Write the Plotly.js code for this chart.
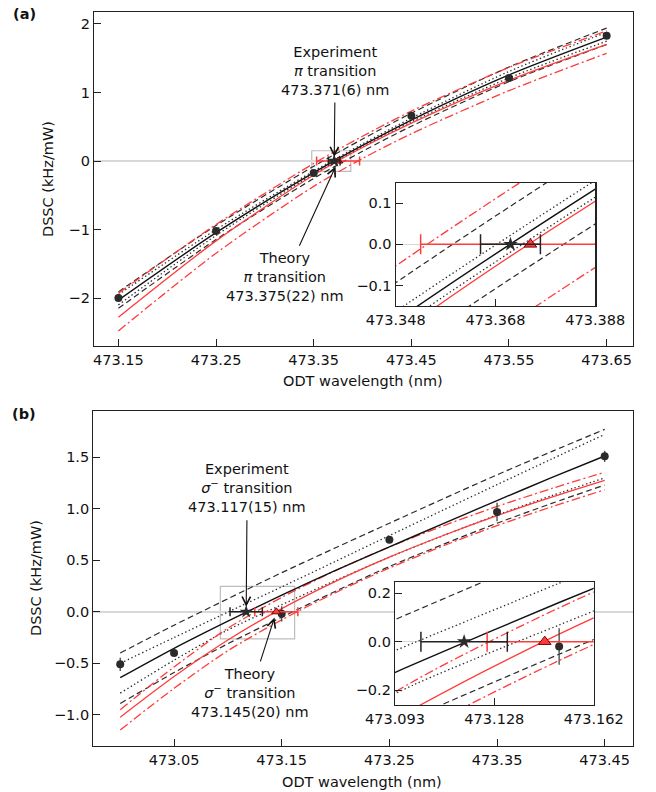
<!DOCTYPE html>
<html><head><meta charset="utf-8">
<script src="https://cdn.plot.ly/plotly-3.0.1.min.js"></script>
<style>html,body{margin:0;padding:0;background:#fff;} #chart{width:656px;height:792px;}</style>
</head><body><div id="chart"></div>
<script>
// ---------------- Panel (a): pi transition ----------------
const aPointsX = [473.15, 473.25, 473.35, 473.45, 473.55, 473.65];
const aPointsY = [-2.00, -1.02, -0.175, 0.66, 1.21, 1.83];
const aPointsErr = [0.02, 0.02, 0.02, 0.02, 0.02, 0.02];
const aCurveX = [473.15, 473.25, 473.35, 473.40, 473.45, 473.55, 473.65];
const aFit      = [-2.03, -1.046, -0.170, 0.227, 0.598, 1.257, 1.809];
const aDashHi   = [-1.91, -0.941, -0.077, 0.320, 0.698, 1.372, 1.940];
const aDashLo   = [-2.15, -1.146, -0.255, 0.142, 0.508, 1.157, 1.700];
const aDotHi    = [-1.95, -1.001, -0.147, 0.249, 0.626, 1.307, 1.879];
const aDotLo    = [-2.10, -1.086, -0.190, 0.207, 0.573, 1.212, 1.749];
const aTheory   = [-2.28, -1.166, -0.205, 0.197, 0.553, 1.177, 1.702];
const aTheoryHi = [-1.93, -0.926, -0.036, 0.361, 0.728, 1.367, 1.899];
const aTheoryLo = [-2.48, -1.346, -0.370, 0.037, 0.398, 1.027, 1.572];
const aExpX = 473.371, aExpErr = 0.006;
const aThX = 473.375, aThErr = 0.022;
const aXTicks = [473.15, 473.25, 473.35, 473.45, 473.55, 473.65];
const aXTickText = ['473.15', '473.25', '473.35', '473.45', '473.55', '473.65'];
const aYTicks = [-2, -1, 0, 1, 2];
const aYTickText = ['\u22122', '\u22121', '0', '1', '2'];
const aInsetXTicks = [473.348, 473.368, 473.388];
const aInsetXTickText = ['473.348', '473.368', '473.388'];
const aInsetYTicks = [-0.1, 0, 0.1];
const aInsetYTickText = ['\u22120.1', '0.0', '0.1'];

// ---------------- Panel (b): sigma- transition ----------------
const bPointsX = [473.00, 473.05, 473.15, 473.25, 473.35, 473.45];
const bPointsY = [-0.51, -0.40, -0.02, 0.70, 0.97, 1.51];
const bPointsErr = [0.065, 0.03, 0.075, 0.03, 0.09, 0.055];
const bCurveX = [473.00, 473.05, 473.10, 473.15, 473.20, 473.25, 473.30, 473.35, 473.40, 473.45];
const bFit      = [-0.64, -0.355, -0.091, 0.162, 0.402, 0.63, 0.857, 1.08, 1.30, 1.513];
const bDashHi   = [-0.40, -0.13, 0.127, 0.38, 0.622, 0.86, 1.097, 1.33, 1.553, 1.772];
const bDashLo   = [-0.89, -0.59, -0.31, -0.052, 0.20, 0.44, 0.655, 0.86, 1.05, 1.231];
const bDotHi    = [-0.50, -0.25, -0.0025, 0.242, 0.49, 0.74, 0.988, 1.235, 1.48, 1.723];
const bDotLo    = [-0.79, -0.47, -0.176, 0.069, 0.305, 0.53, 0.74, 0.94, 1.125, 1.30];
const bTheory   = [-1.024, -0.629, -0.274, 0.031, 0.296, 0.531, 0.741, 0.934, 1.111, 1.276];
const bTheoryHi = [-0.95, -0.535, -0.16, 0.14, 0.40, 0.63, 0.835, 1.023, 1.195, 1.355];
const bTheoryLo = [-1.148, -0.743, -0.378, -0.078, 0.187, 0.425, 0.640, 0.837, 1.017, 1.185];
const bExpX = 473.117, bExpErr = 0.015;
const bThX = 473.145, bThErr = 0.020;
const bXTicks = [473.05, 473.15, 473.25, 473.35, 473.45];
const bXTickText = ['473.05', '473.15', '473.25', '473.35', '473.45'];
const bYTicks = [-1, -0.5, 0, 0.5, 1, 1.5];
const bYTickText = ['\u22121.0', '\u22120.5', '0.0', '0.5', '1.0', '1.5'];
const bInsetXTicks = [473.093, 473.1275, 473.162];
const bInsetXTickText = ['473.093', '473.128', '473.162'];
const bInsetYTicks = [-0.2, 0, 0.2];
const bInsetYTickText = ['\u22120.2', '0.0', '0.2'];

// ---------------- styling / layout helpers ----------------
const W = 656, H = 792;
const px = v => v / W, py = v => 1 - v / H;
const FONT = 'DejaVu Sans, Verdana, sans-serif';
const INK = '#111111', DARK = '#2b2b2b', RED = '#ff3b3b';
const DASH = '6px,3.5px', DOT = '1.4px,2.6px', DASHDOT = '9px,3px,2px,3px';

function curves(xs, set, xa, ya) {
  const spec = [
    [set.dashHi, DARK, DASH, 1.2], [set.dashLo, DARK, DASH, 1.2],
    [set.dotHi, DARK, DOT, 1.3], [set.dotLo, DARK, DOT, 1.3],
    [set.thHi, RED, DASHDOT, 1.3], [set.thLo, RED, DASHDOT, 1.3],
    [set.th, RED, 'solid', 1.3], [set.fit, INK, 'solid', 1.4]
  ];
  return spec.map(([y, c, d, w]) => ({
    type: 'scatter', mode: 'lines', x: xs, y: y, xaxis: xa, yaxis: ya,
    line: {color: c, dash: d, width: w, shape: 'spline', smoothing: 0.8},
    hoverinfo: 'skip', showlegend: false
  }));
}
function points(xs, ys, es, xa, ya) {
  return {type: 'scatter', mode: 'markers', x: xs, y: ys, xaxis: xa, yaxis: ya,
    marker: {color: DARK, size: 8, line: {width: 0}},
    error_y: {type: 'data', array: es, visible: true, color: '#444', thickness: 1.3, width: 0},
    showlegend: false};
}
function markers(ex, ee, tx, te, xa, ya, big) {
  return [
    {type: 'scatter', mode: 'markers', x: [tx], y: [0], xaxis: xa, yaxis: ya,
      marker: {symbol: 'triangle-up', color: RED, size: big ? 11 : 8, line: {color: '#7a0000', width: 1}},
      error_x: {type: 'data', array: [te], visible: true, color: RED, thickness: 1.5, width: big ? 10 : 4.5},
      showlegend: false},
    {type: 'scatter', mode: 'markers', x: [ex], y: [0], xaxis: xa, yaxis: ya,
      marker: {symbol: 'star', color: DARK, size: big ? 11 : 10, line: {width: 0}},
      error_x: {type: 'data', array: [ee], visible: true, color: '#222', thickness: 1.5, width: big ? 10 : 4.5},
      showlegend: false}
  ];
}

const aSet = {fit: aFit, dashHi: aDashHi, dashLo: aDashLo, dotHi: aDotHi, dotLo: aDotLo, th: aTheory, thHi: aTheoryHi, thLo: aTheoryLo};
const bSet = {fit: bFit, dashHi: bDashHi, dashLo: bDashLo, dotHi: bDotHi, dotLo: bDotLo, th: bTheory, thHi: bTheoryHi, thLo: bTheoryLo};

const data = [].concat(
  curves(aCurveX, aSet, 'x', 'y'), [points(aPointsX, aPointsY, aPointsErr, 'x', 'y')], markers(aExpX, aExpErr, aThX, aThErr, 'x', 'y', false),
  curves(bCurveX, bSet, 'x2', 'y2'), [points(bPointsX, bPointsY, bPointsErr, 'x2', 'y2')], markers(bExpX, bExpErr, bThX, bThErr, 'x2', 'y2', false),
  curves(aCurveX, aSet, 'x3', 'y3'), [points(aPointsX, aPointsY, aPointsErr, 'x3', 'y3')], markers(aExpX, aExpErr, aThX, aThErr, 'x3', 'y3', true),
  curves(bCurveX, bSet, 'x4', 'y4'), [points(bPointsX, bPointsY, bPointsErr, 'x4', 'y4')], markers(bExpX, bExpErr, bThX, bThErr, 'x4', 'y4', true)
);

const tickFont = {family: FONT, size: 14.5, color: INK};
function ax(domain, range, tv, tt, anchor, extra) {
  return Object.assign({domain: domain, range: range, anchor: anchor, tickvals: tv, ticktext: tt,
    ticks: 'inside', ticklen: 7, tickwidth: 1, tickcolor: '#222', showline: true, mirror: true,
    linecolor: '#222', linewidth: 1.2, showgrid: false, zeroline: false, tickfont: tickFont,
    fixedrange: true}, extra || {});
}
const zl = {zeroline: true, zerolinecolor: '#d8d8d8', zerolinewidth: 1.5};

const aInsetRange = {x: [473.348, 473.388], y: [-0.15, 0.15]};
const bInsetRange = {x: [473.093, 473.162], y: [-0.262, 0.248]};

const layout = {
  width: W, height: H, margin: {l: 0, r: 0, t: 0, b: 0},
  paper_bgcolor: '#ffffff', plot_bgcolor: '#ffffff', showlegend: false,
  font: {family: FONT, size: 14.5, color: INK},
  xaxis: ax([px(94), px(633)], [473.125, 473.677], aXTicks, aXTickText, 'y'),
  yaxis: ax([py(346), py(12)], [-2.70, 2.175], aYTicks, aYTickText, 'x', zl),
  xaxis2: ax([px(93.3), px(632.7)], [472.975, 473.476], bXTicks, bXTickText, 'y2'),
  yaxis2: ax([py(746), py(411)], [-1.303, 1.95], bYTicks, bYTickText, 'x2', zl),
  xaxis3: ax([px(395.7), px(595.3)], aInsetRange.x, aInsetXTicks, aInsetXTickText, 'y3'),
  yaxis3: ax([py(306), py(182.7)], aInsetRange.y, aInsetYTicks, aInsetYTickText, 'x3', zl),
  xaxis4: ax([px(395), px(593.7)], bInsetRange.x, bInsetXTicks, bInsetXTickText, 'y4'),
  yaxis4: ax([py(705), py(581.7)], bInsetRange.y, bInsetYTicks, bInsetYTickText, 'x4', zl),
  shapes: [
    {type: 'rect', xref: 'x', yref: 'y', x0: aInsetRange.x[0], x1: aInsetRange.x[1], y0: aInsetRange.y[0], y1: aInsetRange.y[1],
      line: {color: '#bdbdbd', width: 1.2}, fillcolor: 'rgba(0,0,0,0)', layer: 'below'},
    {type: 'rect', xref: 'x2', yref: 'y2', x0: bInsetRange.x[0], x1: bInsetRange.x[1], y0: bInsetRange.y[0], y1: bInsetRange.y[1],
      line: {color: '#bdbdbd', width: 1.2}, fillcolor: 'rgba(0,0,0,0)', layer: 'below'},
    {type: 'rect', xref: 'x3', yref: 'y3', x0: aInsetRange.x[0], x1: aInsetRange.x[1], y0: aInsetRange.y[0], y1: aInsetRange.y[1],
      line: {width: 0}, fillcolor: '#ffffff', layer: 'below'},
    {type: 'rect', xref: 'x4', yref: 'y4', x0: bInsetRange.x[0], x1: bInsetRange.x[1], y0: bInsetRange.y[0], y1: bInsetRange.y[1],
      line: {width: 0}, fillcolor: '#ffffff', layer: 'below'}
  ],
  annotations: []
};

function txt(t, x, y, o) {
  return Object.assign({text: t, x: px(x), y: py(y), xref: 'paper', yref: 'paper', showarrow: false,
    xanchor: 'center', yanchor: 'middle', font: {family: FONT, size: 14.5, color: INK}}, o || {});
}
// label block with an arrow pointing at the transition marker (at y = 0)
function callout(t, x, xref, yref, axp, ayp, so, sso) {
  return {text: t, x: x, y: 0, xref: xref, yref: yref, showarrow: true, ax: axp, ay: ayp,
    xanchor: 'center', yanchor: 'middle', align: 'center',
    font: {family: FONT, size: 14.5, color: INK},
    arrowhead: 5, arrowsize: 1.5, arrowwidth: 1.1, arrowcolor: INK, standoff: so, startstandoff: sso};
}
layout.annotations.push(
  txt('<b>(a)</b>', 24, 14),
  txt('<b>(b)</b>', 24, 414),
  txt('DSSC (kHz/mW)', 48, 179, {textangle: -90}),
  txt('DSSC (kHz/mW)', 36, 578, {textangle: -90}),
  txt('ODT wavelength (nm)', 363, 381),
  txt('ODT wavelength (nm)', 362, 782),
  callout('Experiment<br><i>\u03c0</i> transition<br>473.371(6) nm', aExpX, 'x', 'y', 1, -90, 4, 3),
  callout('Theory<br><i>\u03c0</i> transition<br>473.375(22) nm', aThX, 'x', 'y', -53, 116, 6, 3),
  callout('Experiment<br><i>\u03c3</i><sup>\u2212</sup> transition<br>473.117(15) nm', bExpX, 'x2', 'y2', 1, -124, 5, 4),
  callout('Theory<br><i>\u03c3</i><sup>\u2212</sup> transition<br>473.145(20) nm', bThX, 'x2', 'y2', -26, 81, 6, 3)
);

Plotly.newPlot('chart', data, layout, {staticPlot: true, displayModeBar: false});
</script></body></html>
